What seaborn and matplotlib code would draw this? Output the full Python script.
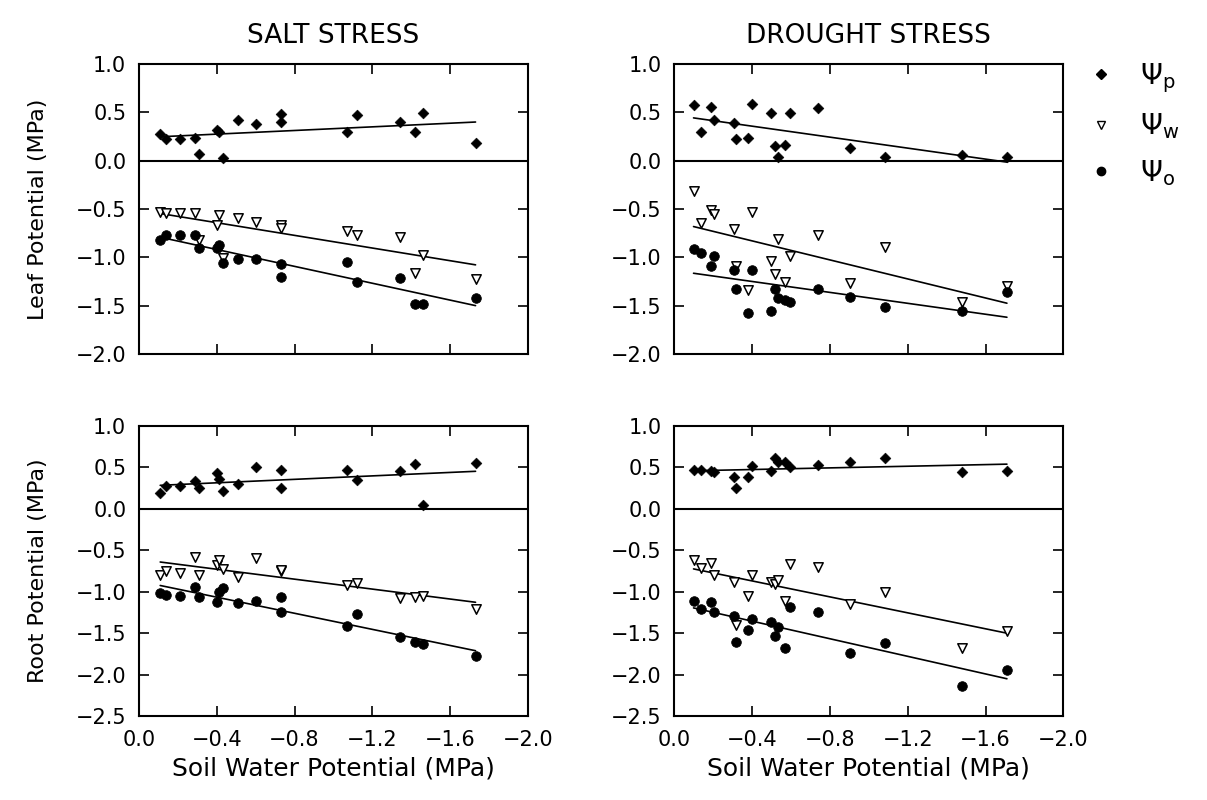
import matplotlib
matplotlib.use("Agg")
import numpy as np
import pandas as pd
import matplotlib.pyplot as plt
import seaborn as sns
from matplotlib.lines import Line2D
from matplotlib.ticker import FixedLocator, FuncFormatter

# soil water potential (MPa) of the sampled plants
salt_swp = [-0.11, -0.14, -0.21, -0.29, -0.31, -0.40, -0.41, -0.43, -0.51,
            -0.60, -0.73, -0.73, -1.07, -1.12, -1.34, -1.42, -1.46, -1.73]
drought_swp = [-0.10, -0.14, -0.19, -0.205, -0.31, -0.32, -0.38, -0.40, -0.50,
               -0.52, -0.535, -0.57, -0.595, -0.74, -0.905, -1.085, -1.48, -1.71]

# leaf potentials
salt_leaf_p = [0.28, 0.22, 0.22, 0.23, 0.07, 0.32, 0.30, 0.03, 0.42,
               0.38, 0.48, 0.40, 0.30, 0.47, 0.40, 0.30, 0.49, 0.18]
salt_leaf_w = [-0.53, -0.54, -0.54, -0.54, -0.82, -0.67, -0.56, -1.01, -0.59,
               -0.63, -0.67, -0.70, -0.73, -0.77, -0.79, -1.16, -0.98, -1.22]
salt_leaf_o = [-0.82, -0.77, -0.77, -0.77, -0.90, -0.90, -0.87, -1.06, -1.02,
               -1.02, -1.07, -1.20, -1.05, -1.26, -1.21, -1.48, -1.48, -1.42]

drought_leaf_p = [0.58, 0.30, 0.56, 0.42, 0.39, 0.22, 0.23, 0.59, 0.49,
                  0.15, 0.04, 0.16, 0.49, 0.55, 0.13, 0.04, 0.06, 0.04]
drought_leaf_w = [-0.31, -0.64, -0.51, -0.55, -0.71, -1.09, -1.34, -0.53, -1.04,
                  -1.17, -0.81, -1.26, -0.99, -0.77, -1.27, -0.89, -1.46, -1.30]
drought_leaf_o = [-0.91, -0.95, -1.09, -0.99, -1.13, -1.33, -1.58, -1.13, -1.55,
                  -1.33, -1.42, -1.44, -1.46, -1.33, -1.41, -1.51, -1.55, -1.36]

# root potentials
salt_root_p = [0.19, 0.27, 0.27, 0.34, 0.25, 0.43, 0.36, 0.21, 0.30,
               0.50, 0.47, 0.25, 0.47, 0.35, 0.46, 0.54, 0.05, 0.55]
salt_root_w = [-0.80, -0.75, -0.77, -0.58, -0.80, -0.68, -0.62, -0.73, -0.82,
               -0.59, -0.75, -0.74, -0.92, -0.90, -1.08, -1.07, -1.05, -1.21]
salt_root_o = [-1.02, -1.04, -1.05, -0.94, -1.07, -1.13, -1.00, -0.95, -1.14,
               -1.11, -1.06, -1.25, -1.41, -1.27, -1.55, -1.61, -1.63, -1.78]

drought_root_p = [0.47, 0.47, 0.46, 0.44, 0.39, 0.25, 0.39, 0.52, 0.46,
                  0.61, 0.56, 0.56, 0.51, 0.53, 0.57, 0.61, 0.45, 0.46]
drought_root_w = [-0.62, -0.71, -0.65, -0.80, -0.88, -1.40, -1.05, -0.80, -0.88,
                  -0.91, -0.86, -1.11, -0.66, -0.70, -1.15, -1.00, -1.68, -1.47]
drought_root_o = [-1.11, -1.21, -1.12, -1.25, -1.29, -1.61, -1.46, -1.33, -1.36,
                  -1.53, -1.42, -1.68, -1.18, -1.25, -1.74, -1.62, -2.14, -1.94]

x_ticks = [0.0, -0.4, -0.8, -1.2, -1.6, -2.0]
leaf_yticks = [1.0, 0.5, 0.0, -0.5, -1.0, -1.5, -2.0]
root_yticks = [1.0, 0.5, 0.0, -0.5, -1.0, -1.5, -2.0, -2.5]

sns.set_style("ticks")
plt.rcParams['font.family'] = ['DejaVu Sans']
plt.rcParams.update({'text.color': 'black', 'axes.labelcolor': 'black',
                     'xtick.color': 'black', 'ytick.color': 'black'})

# marker style per component
styles = {
    'p': dict(marker='D', s=30, color='black', edgecolor='black'),
    'w': dict(marker='v', s=46, color='white', edgecolor='black', linewidth=1.1),
    'o': dict(marker='o', s=48, color='black', edgecolor='black'),
}


def fmt(v, pos):
    if abs(v) < 1e-9:
        return "0.0"
    return f"{v:.1f}".replace("-", "\u2212")


def draw_panel(ax, swp, series, yticks, bottom_labels):
    for key, vals in series.items():
        sns.scatterplot(x=swp, y=vals, ax=ax, zorder=3, **styles[key])
        sns.regplot(x=swp, y=vals, ax=ax, scatter=False, ci=None,
                    line_kws=dict(color='black', lw=1.2))
    ax.axhline(0, color='black', lw=1.5)
    ax.set_xlim(0, -2.0)
    ax.set_ylim(yticks[-1], yticks[0])
    ax.xaxis.set_major_locator(FixedLocator(x_ticks))
    ax.yaxis.set_major_locator(FixedLocator(yticks))
    ax.xaxis.set_major_formatter(FuncFormatter(fmt))
    ax.yaxis.set_major_formatter(FuncFormatter(fmt))
    ax.tick_params(direction='in', top=True, right=True, length=7, width=1.2,
                   labelsize=15)
    ax.tick_params(axis='y', pad=9)
    ax.tick_params(axis='x', pad=10, labelbottom=bottom_labels)
    for sp in ax.spines.values():
        sp.set_linewidth(1.5)
        sp.set_color('black')
    ax.set_xlabel("")
    ax.set_ylabel("")


fig, axes = plt.subplots(2, 2, figsize=(12.07, 8), dpi=100)
fig.subplots_adjust(left=0.115, right=0.881, top=0.92, bottom=0.105,
                    wspace=0.375, hspace=0.248)

draw_panel(axes[0, 0], salt_swp,
           {'p': salt_leaf_p, 'w': salt_leaf_w, 'o': salt_leaf_o}, leaf_yticks, False)
draw_panel(axes[0, 1], drought_swp,
           {'p': drought_leaf_p, 'w': drought_leaf_w, 'o': drought_leaf_o}, leaf_yticks, False)
draw_panel(axes[1, 0], salt_swp,
           {'p': salt_root_p, 'w': salt_root_w, 'o': salt_root_o}, root_yticks, True)
draw_panel(axes[1, 1], drought_swp,
           {'p': drought_root_p, 'w': drought_root_w, 'o': drought_root_o}, root_yticks, True)

axes[0, 0].set_title("SALT STRESS", fontsize=19, pad=15)
axes[0, 1].set_title("DROUGHT STRESS", fontsize=19, pad=15)

axes[0, 0].set_ylabel("Leaf Potential (MPa)", fontsize=16, labelpad=20)
axes[1, 0].set_ylabel("Root Potential (MPa)", fontsize=16, labelpad=20)
for ax in axes[1]:
    ax.set_xlabel("Soil Water Potential (MPa)", fontsize=18, labelpad=5)

handles = [
    Line2D([], [], ls='none', marker='D', ms=5, color='black'),
    Line2D([], [], ls='none', marker='v', ms=6, mfc='white', mec='black'),
    Line2D([], [], ls='none', marker='o', ms=6, color='black'),
]
labels = [r'$\Psi_{\mathrm{p}}$', r'$\Psi_{\mathrm{w}}$', r'$\Psi_{\mathrm{o}}$']
fig.legend(handles, labels, loc='upper left', bbox_to_anchor=(0.88, 0.955),
           frameon=False, fontsize=20, labelspacing=0.6, handletextpad=0.9,
           handlelength=1.0)

fig.savefig("out.png", dpi=100, facecolor='white')
